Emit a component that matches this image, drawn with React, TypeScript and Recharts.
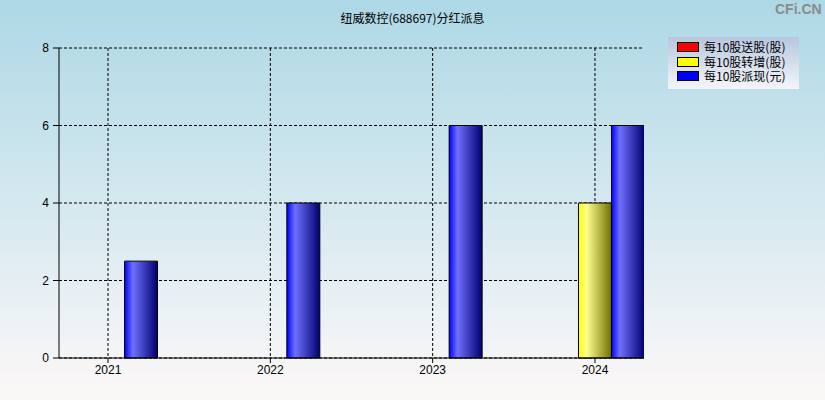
import React from "react";
import { BarChart, Bar, XAxis, YAxis, CartesianGrid } from "recharts";

const years = [2021, 2022, 2023, 2024];
const songGu = [0, 0, 0, 0];
const zhuanZeng = [0, 0, 0, 4];
const paiXian = [2.5, 4, 6, 6];
const yTicks = [0, 2, 4, 6, 8];
const seriesNames = ["每10股送股(股)", "每10股转增(股)", "每10股派现(元)"];
const seriesColors = ["#ff0000", "#ffff00", "#0000ff"];
const title = "纽威数控(688697)分红派息";

const data = years.map((y, i) => ({
  year: y,
  song: songGu[i],
  zhuan: zhuanZeng[i],
  pai: paiXian[i],
}));

const FONT = "'Liberation Sans', Arial, sans-serif";

const LegendBox = () => (
  <div
    style={{
      position: "absolute",
      left: 668,
      top: 37,
      width: 131,
      height: 52,
      background: "linear-gradient(to bottom, #b7c6df, #f4f5f9)",
      boxSizing: "border-box",
      paddingTop: 3,
      paddingLeft: 9,
      fontFamily: "'Noto Sans CJK SC', sans-serif",
      fontSize: 12,
      color: "#000",
    }}
  >
    {seriesNames.map((n, i) => (
      <div key={n} style={{ display: "flex", alignItems: "center", height: 14.5 }}>
        <div
          style={{
            width: 20,
            height: 8,
            background: seriesColors[i],
            border: "1px solid #000",
            marginRight: 5,
          }}
        />
        <span
          style={{
            display: "inline-block",
            height: 14,
            lineHeight: "14px",
            overflow: "visible",
            whiteSpace: "nowrap",
          }}
        >
          {n}
        </span>
      </div>
    ))}
  </div>
);

export default function App() {
  return (
    <div
      style={{
        position: "absolute",
        left: 0,
        top: 0,
        width: 825,
        height: 400,
        background: "linear-gradient(to bottom, #add8e6 0%, #d4e8ef 50%, #fdf8f8 100%)",
      }}
    >
      <div
        style={{
          position: "absolute",
          left: 0,
          top: 9,
          width: 825,
          textAlign: "center",
          fontFamily: "'Noto Sans CJK SC', sans-serif",
          fontSize: 12,
          color: "#000",
        }}
      >
        {title}
      </div>
      <div
        style={{
          position: "absolute",
          left: 775,
          top: 1,
          fontFamily: FONT,
          fontWeight: "bold",
          fontSize: 14,
          color: "#8a8a8a",
        }}
      >
        CFi.CN
      </div>
      <BarChart
        width={825}
        height={400}
        data={data}
        margin={{ top: 48, right: 181, bottom: 0, left: 0 }}
        barCategoryGap="19.5%"
        barGap={0}
      >
        <defs>
          <linearGradient id="gRed" x1="0" y1="0" x2="1" y2="0">
            <stop offset="0%" stopColor="#ff0000" />
            <stop offset="25%" stopColor="#ff7070" />
            <stop offset="100%" stopColor="#700000" />
          </linearGradient>
          <linearGradient id="gYellow" x1="0" y1="0" x2="1" y2="0">
            <stop offset="0%" stopColor="#ffff00" />
            <stop offset="25%" stopColor="#ffff90" />
            <stop offset="100%" stopColor="#707000" />
          </linearGradient>
          <linearGradient id="gBlue" x1="0" y1="0" x2="1" y2="0">
            <stop offset="0%" stopColor="#0000ff" />
            <stop offset="25%" stopColor="#7070ff" />
            <stop offset="100%" stopColor="#000070" />
          </linearGradient>
        </defs>
        <CartesianGrid stroke="#000" strokeDasharray="3 2" strokeWidth={1} syncWithTicks />
        <XAxis
          dataKey="year"
          type="number"
          domain={[2020.698, 2024.302]}
          ticks={years}
          allowDataOverflow
          height={42}
          stroke="#000"
          tickSize={5}
          tickMargin={2}
          tick={{ fill: "#000", fontSize: 12, fontFamily: FONT }}
        />
        <YAxis
          domain={[0, 8]}
          ticks={yTicks}
          width={59}
          stroke="#000"
          tickSize={6}
          tickMargin={4}
          tick={{ fill: "#000", fontSize: 12, fontFamily: FONT }}
        />
        <Bar dataKey="song" name={seriesNames[0]} fill="url(#gRed)" stroke="#000" isAnimationActive={false} />
        <Bar dataKey="zhuan" name={seriesNames[1]} fill="url(#gYellow)" stroke="#000" isAnimationActive={false} />
        <Bar dataKey="pai" name={seriesNames[2]} fill="url(#gBlue)" stroke="#000" isAnimationActive={false} />
      </BarChart>
      <LegendBox />
    </div>
  );
}
